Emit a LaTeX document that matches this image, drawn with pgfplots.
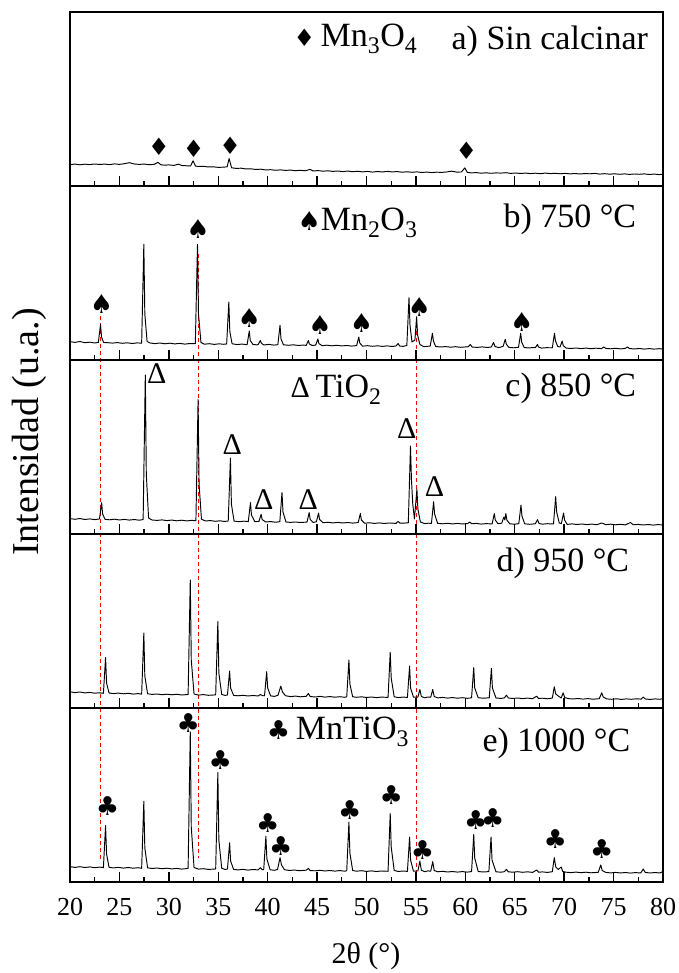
\documentclass[border=0pt]{standalone}
\usepackage{pgfplots}
\pgfplotsset{compat=1.18}
\usepackage{fontspec}
\setmainfont{Liberation Serif}
\newfontfamily\suitfont{DejaVu Sans}

\pgfplotsset{
 panel/.style={
   scale only axis, width=593pt, height=174pt, anchor=south west,
   xmin=20, xmax=80, ymin=0, ymax=174,
   xtick={20,25,...,80}, minor x tick num=1,
   ytick=\empty, xtick pos=left, xtick align=inside,
   major tick length=10pt, minor tick length=5pt,
   axis line style={line width=1.8pt},
   tick style={line width=1.4pt, black},
   clip=false,
 },
 xrd/.style={black, line width=0.95pt, no markers, line join=round},
 symstyle/.style={only marks, mark=text, text mark as node=true,
   text mark style={font=\fontsize{#1}{#1}\selectfont, inner sep=0pt}},
}
\tikzset{lab/.style={font=\fontsize{34}{34}\selectfont, inner sep=0pt}}

\begin{document}
\begin{tikzpicture}
\useasboundingbox (0,0) rectangle (678pt,973pt);

% red dashed guide lines (panels b-e)
\begin{axis}[scale only axis, width=593pt, height=696pt, at={(70pt,91pt)}, anchor=south west,
  xmin=20, xmax=80, ymin=0, ymax=696, hide axis]
\addplot[red, line width=1pt, dash pattern=on 4pt off 3pt] coordinates {(23.09,566) (23.09,22)};
\addplot[red, line width=1pt, dash pattern=on 4pt off 3pt] coordinates {(32.96,628) (32.96,24)};
\addplot[red, line width=1pt, dash pattern=on 4pt off 3pt] coordinates {(55.07,565) (55.07,10)};
\end{axis}

% ---------------- a) Sin calcinar ----------------
\begin{axis}[panel, at={(70pt,787pt)}, xticklabels={}]
\addplot[xrd] coordinates {
(20,21.3)(20.5,21.9)(21,21.2)(21.5,21.8)(22,21.4)(22.5,22.0)(23,21.5)(23.5,21.9)(24,21.4)(24.5,22.1)
(25,21.6)(25.5,22.3)(26,23.3)(26.5,22.0)(27,21.6)(27.5,21.9)(28,21.3)(28.5,21.6)(28.9,23.6)(29.2,21.2)
(29.6,20.8)(30,21.1)(30.5,20.6)(31,21.8)(31.3,20.5)(31.8,20.2)(32.2,20.0)(32.45,25.2)(32.7,19.9)(33,19.5)
(33.5,19.7)(34,19.0)(34.5,19.2)(35,18.6)(35.5,18.8)(35.9,19.2)(36.1,27.5)(36.35,18.2)(36.8,17.6)(37.3,17.8)
(37.8,17.0)(38.3,17.2)(38.8,16.5)(39.3,16.8)(39.8,16.0)(40.3,16.3)(40.8,15.7)(41.3,16.1)(41.8,15.6)(42.3,15.9)
(42.8,15.3)(43.3,15.7)(43.8,15.2)(44.3,16.6)(44.6,15.0)(45.1,15.4)(45.6,14.8)(46.1,15.2)(46.6,14.6)(47.1,15.0)
(47.6,14.4)(48.1,14.9)(48.6,14.3)(49.1,14.7)(49.6,14.1)(50.1,14.6)(50.6,13.9)(51.1,14.5)(51.6,14.0)(52.1,14.6)
(52.6,14.1)(53.1,14.4)(53.6,13.8)(54.1,14.2)(54.6,13.7)(55.1,14.1)(55.6,13.5)(56.1,13.9)(56.6,13.4)(57.1,13.8)
(57.6,13.6)(58.1,14.0)(58.6,14.8)(59.1,13.9)(59.6,14.0)(59.95,18.1)(60.2,13.6)(60.6,13.1)(61.1,13.4)(61.6,12.8)
(62.1,13.2)(62.6,12.7)(63.1,13.1)(63.6,12.9)(64.1,13.3)(64.6,12.6)(65.1,13.0)(65.6,12.5)(66.1,12.9)(66.6,12.4)
(67.1,12.8)(67.6,12.3)(68.1,12.9)(68.6,12.4)(69.1,12.7)(69.6,12.2)(70.1,12.6)(70.6,12.1)(71.1,12.5)(71.6,12.0)
(72.1,12.4)(72.6,12.2)(73.1,12.6)(73.6,11.9)(74.1,12.3)(74.6,11.8)(75.1,12.2)(75.6,11.7)(76.1,12.1)(76.6,11.6)
(77.1,12.0)(77.6,11.7)(78.1,12.1)(78.6,11.5)(79.1,11.9)(79.6,11.4)(80,11.8)
};
\addplot[symstyle=24, text mark={\suitfont ♦}] coordinates {(29.0,38.8) (32.5,37.2) (36.2,40.5) (60.1,34.8)};
\node[lab, anchor=east] at (axis cs:78.5,145) {a) Sin calcinar};
\node[lab, anchor=west] at (axis cs:42.6,147) {{\suitfont\fontsize{24}{24}\selectfont ♦}\,Mn\textsubscript{3}O\textsubscript{4}};
\end{axis}

% ---------------- b) 750 C ----------------
\begin{axis}[panel, at={(70pt,613pt)}, xticklabels={}]
\addplot[xrd] coordinates {
(20,18.4)(20.5,17.6)(21,18.5)(21.5,17.3)(22,17.8)(22.5,17.0)(22.87,17.6)(23.09,35.7)(23.19,23.0)(23.4,17.5)
(23.8,17.3)(24.3,16.9)(24.8,17.4)(25.3,16.7)(25.8,17.2)(26.3,16.5)(26.8,17.1)(27.25,16.8)(27.47,115.7)(27.57,46)
(27.8,18.5)(28.1,17.0)(28.6,16.4)(29.1,17.0)(29.6,16.2)(30.1,16.8)(30.6,16.1)(31.1,16.6)(31.6,15.9)(32.1,16.4)
(32.68,16.3)(32.9,115.7)(33.0,46)(33.25,17.5)(33.6,15.8)(34.1,16.3)(34.6,15.6)(35.1,16.2)(35.5,15.7)(35.85,16.0)
(36.07,58)(36.17,28.5)(36.4,16.2)(36.9,15.4)(37.4,15.9)(37.92,15.3)(38.14,29)(38.24,19.5)(38.5,15.6)(38.9,15.1)
(39.04,15.5)(39.26,19.5)(39.36,16.8)(39.6,15.0)(40.1,15.6)(40.6,14.9)(41.03,15.3)(41.25,34.7)(41.35,21)(41.6,15.2)
(42.1,14.7)(42.6,15.2)(43.1,14.5)(43.6,14.9)(43.9,14.6)(44.12,19.5)(44.22,16)(44.5,14.5)(44.86,14.9)(45.08,21)
(45.18,16.5)(45.5,14.3)(46,14.8)(46.5,14.2)(47,14.7)(47.5,14.1)(48,14.5)(48.5,13.9)(49.0,14.4)(49.22,23)
(49.32,17)(49.6,13.8)(50.1,14.3)(50.6,13.7)(51.1,14.2)(51.6,13.6)(52.1,14.1)(52.6,13.5)(52.98,14)(53.2,16.5)
(53.35,14)(53.7,13.6)(54.08,14.5)(54.3,62.3)(54.4,35)(54.6,18)(54.9,20)(55.07,43.3)(55.17,25)(55.4,15.5)
(55.8,13.3)(56.2,13.7)(56.45,14.0)(56.67,26.7)(56.77,19)(57.0,13.5)(57.5,13.0)(58,13.4)(58.5,12.8)(59,13.3)
(59.5,12.7)(60.28,13.2)(60.5,15.5)(60.7,12.9)(61.2,12.6)(61.7,13.1)(62.2,12.5)(62.63,13)(62.85,17.5)(63.0,13.5)
(63.4,12.4)(63.82,13.6)(64.04,20.7)(64.14,16)(64.4,12.6)(64.9,12.2)(65.38,12.7)(65.6,26.7)(65.7,18)(65.95,12.5)
(66.4,12.0)(66.9,12.5)(67.08,12.3)(67.3,15.5)(67.4,13)(67.7,11.9)(68.2,12.3)(68.8,12.2)(69.02,26.7)(69.12,19)
(69.35,13.5)(69.58,13)(69.8,19)(69.9,14.5)(70.2,11.9)(70.7,11.5)(71.2,12.0)(71.7,11.4)(72.2,11.9)(72.7,11.3)
(73.2,11.8)(73.78,11.4)(74,13)(74.2,11.6)(74.7,11.2)(75.2,11.7)(75.7,11.1)(76.18,11.6)(76.4,13)(76.6,11.5)
(77.1,11.0)(77.6,11.5)(78.1,10.9)(78.6,11.4)(79.1,10.9)(79.6,11.3)(80,11.0)
};
\addplot[symstyle=26, text mark={\suitfont ♠}] coordinates {(23.2,55.7) (32.96,130.7) (38.14,42.3) (45.3,34.7) (49.5,37.3) (55.35,53.3) (65.7,38)};
\node[lab, anchor=east] at (axis cs:77.3,140.7) {b) 750 °C};
\node[lab, anchor=west] at (axis cs:43.0,137.3) {{\suitfont\fontsize{26}{26}\selectfont ♠}Mn\textsubscript{2}O\textsubscript{3}};
\end{axis}

% ---------------- c) 850 C ----------------
\begin{axis}[panel, at={(70pt,439pt)}, xticklabels={}]
\addplot[xrd] coordinates {
(20,15.4)(20.5,14.7)(21,15.5)(21.5,14.5)(22,15.1)(22.5,14.4)(22.98,15.0)(23.2,31.3)(23.3,20)(23.55,14.6)
(24,14.2)(24.5,14.8)(25,14.0)(25.5,14.6)(26,13.9)(26.5,14.5)(27,13.8)(27.4,14.4)(27.62,159)(27.72,60)
(27.95,16)(28.3,14.0)(28.8,13.6)(29.3,14.1)(29.8,13.4)(30.3,13.9)(30.8,13.2)(31.3,13.8)(31.8,13.1)(32.3,13.6)
(32.74,13.3)(32.96,134.4)(33.06,50)(33.3,14.8)(33.7,13.0)(34.2,13.4)(34.7,12.7)(35.2,13.2)(35.6,12.5)(36.01,13.0)
(36.23,75.9)(36.33,30)(36.6,12.9)(37.1,12.3)(37.6,12.8)(38.04,12.4)(38.26,31.3)(38.36,19)(38.7,12.3)(39.12,12.6)
(39.34,19.7)(39.44,14.5)(39.8,12.0)(40.3,12.4)(40.8,11.8)(41.23,12.3)(41.45,41.5)(41.55,22)(41.85,12.0)(42.3,11.6)
(42.8,12.0)(43.3,11.5)(43.98,11.9)(44.2,21.4)(44.3,14.5)(44.6,11.6)(44.93,12.2)(45.15,21)(45.25,14.5)(45.6,11.3)
(46.1,11.7)(46.6,11.1)(47.1,11.6)(47.6,11.0)(48.1,11.5)(48.6,10.9)(49.16,11.4)(49.38,20.4)(49.48,14)(49.8,10.8)
(50.3,11.2)(50.8,10.6)(51.3,11.1)(51.8,10.5)(52.3,11.0)(52.98,10.6)(53.2,12.6)(53.4,10.8)(53.8,10.9)(54.23,11.2)
(54.45,87.8)(54.55,54)(54.68,30)(54.85,15)(55.1,44.9)(55.2,25)(55.45,12)(55.9,10.4)(56.3,10.8)(56.57,10.5)
(56.79,32.3)(56.89,20)(57.2,10.6)(57.7,10.2)(58.2,10.7)(58.7,10.1)(59.2,10.6)(59.7,10.0)(60.23,10.5)(60.45,11.9)
(60.65,10.2)(61.1,10.6)(61.6,9.9)(62.1,10.4)(62.71,10.0)(62.93,20.4)(63.03,14)(63.3,10.3)(63.68,10.8)(63.9,17)
(64.0,14)(64.1,20.5)(64.2,14)(64.5,10.2)(65.0,9.8)(65.41,10.3)(65.63,28.9)(65.73,18)(66.0,10.2)(66.5,9.7)
(67.08,10.2)(67.3,14.3)(67.45,10.5)(67.8,9.8)(68.3,10.3)(68.92,10.0)(69.14,37.4)(69.24,22)(69.5,11)(69.72,10.5)
(69.94,21)(70.04,14)(70.3,9.6)(70.8,10.1)(71.3,9.5)(71.8,10.0)(72.3,9.4)(72.8,9.9)(73.3,9.3)(73.8,11)
(74.2,9.4)(74.7,9.8)(75.2,9.2)(75.7,9.7)(76.2,9.1)(76.7,11.5)(77.0,9.2)(77.5,9.6)(78.0,9.0)(78.5,9.5)
(79,8.9)(79.5,9.4)(80,9.0)
};
\addplot[symstyle=30, text mark={Δ}] coordinates {(28.78,160.5) (36.43,89) (39.6,34) (44.12,34) (54.08,105.4) (56.87,47.6)};
\node[lab, anchor=east] at (axis cs:77.3,146) {c) 850 °C};
\node[lab, anchor=west] at (axis cs:42.3,144.6) {{\fontsize{30}{30}\selectfont Δ}\,TiO\textsubscript{2}};
\end{axis}

% ---------------- d) 950 C ----------------
\begin{axis}[panel, at={(70pt,265pt)}, xticklabels={}]
\addplot[xrd] coordinates {
(20,16.2)(20.5,15.4)(21,16.0)(21.5,15.1)(22,15.6)(22.5,14.8)(23.0,15.2)(23.38,14.7)(23.6,50.5)(23.7,25)
(23.95,15.0)(24.4,14.4)(24.9,14.9)(25.4,14.2)(25.9,14.7)(26.4,13.9)(26.9,14.4)(27.25,13.8)(27.47,75)(27.57,32)
(27.85,14.2)(28.3,13.6)(28.8,14.0)(29.3,13.3)(29.8,13.8)(30.3,13.2)(30.8,13.7)(31.3,13.0)(31.95,13.5)(32.17,128)
(32.27,48)(32.55,14.0)(33.0,12.9)(33.5,13.4)(34.0,12.7)(34.74,13.1)(34.96,86.5)(35.06,35)(35.35,13.5)(35.7,12.6)
(35.93,13.0)(36.15,37)(36.25,20)(36.55,12.6)(37.0,12.2)(37.5,12.7)(38.0,12.0)(38.5,12.5)(39.04,12.0)(39.26,13.5)
(39.45,12.4)(39.68,12.2)(39.9,36.4)(40.0,20)(40.3,12.1)(40.7,11.6)(41.05,12.8)(41.33,21.9)(41.5,16)(41.8,12.3)
(42.3,11.4)(42.8,11.9)(43.3,11.2)(43.9,11.7)(44.12,14.5)(44.3,11.5)(44.8,11.0)(45.3,11.6)(45.8,10.9)(46.3,11.4)
(46.8,10.8)(47.3,11.3)(47.8,10.7)(48.0,11.2)(48.22,48)(48.32,24)(48.6,11.2)(49.0,10.7)(49.5,11.2)(50.0,10.5)
(50.5,11.0)(51.0,10.4)(51.5,10.9)(52.18,10.6)(52.4,55.6)(52.5,30)(52.8,11.2)(53.2,10.4)(53.7,10.9)(54.14,10.6)
(54.36,42)(54.46,20)(54.75,10.8)(55.2,10.9)(55.4,18.5)(55.55,11.5)(55.9,10.2)(56.2,11.0)(56.5,10.8)(56.7,18.5)
(56.85,11.5)(57.2,10.1)(57.7,10.6)(58.2,9.9)(58.7,10.4)(59.2,9.8)(59.7,10.3)(60.2,9.7)(60.63,10.2)(60.85,40.4)
(60.95,20)(61.3,10.3)(61.8,9.8)(62.42,10.2)(62.64,39.7)(62.74,20)(63.1,10.0)(63.6,9.6)(63.95,10.1)(64.16,12.8)
(64.35,10.0)(64.8,9.5)(65.3,10.0)(65.8,9.4)(66.3,9.9)(66.8,9.3)(67.22,11.8)(67.4,9.5)(67.8,9.8)(68.3,9.2)
(68.8,9.9)(69.0,21.2)(69.15,14)(69.4,12)(69.7,10)(69.9,15.2)(70.05,10.5)(70.4,9.4)(70.9,9.0)(71.4,9.5)
(71.9,8.9)(72.4,9.4)(72.9,8.8)(73.55,9.3)(73.8,15.2)(73.95,11)(74.3,9.1)(74.8,8.7)(75.3,9.2)(75.8,8.6)
(76.3,9.1)(76.8,8.7)(77.3,9.2)(77.8,8.9)(78.0,11)(78.2,9.0)(78.7,8.6)(79.2,9.1)(79.7,8.7)(80,9.4)
};
\node[lab, anchor=east] at (axis cs:76.6,144.8) {d) 950 °C};
\end{axis}

% ---------------- e) 1000 C ----------------
\begin{axis}[panel, at={(70pt,91pt)},
   /pgf/number format/assume math mode=true,
   xticklabel style={font=\fontsize{26}{26}\selectfont, inner sep=0pt, anchor=north, yshift=-16pt}]
\addplot[xrd] coordinates {
(20,15.4)(20.5,14.6)(21,15.3)(21.5,14.5)(22,15.1)(22.5,14.3)(23.0,14.9)(23.38,14.4)(23.6,56.5)(23.7,28)
(23.95,14.7)(24.4,14.1)(24.9,14.6)(25.4,13.9)(25.9,14.5)(26.4,13.8)(26.9,14.3)(27.25,13.7)(27.47,80.7)(27.57,34)
(27.85,14.2)(28.3,13.5)(28.8,14.0)(29.3,13.3)(29.8,13.8)(30.3,13.1)(30.8,13.6)(31.3,12.9)(31.95,13.6)(32.17,150)
(32.27,55)(32.55,14.5)(33.0,12.9)(33.5,13.3)(34.0,12.6)(34.74,13.0)(34.96,109.6)(35.06,42)(35.35,13.8)(35.7,12.5)
(35.93,13.0)(36.15,39.2)(36.25,21)(36.55,12.6)(37.0,12.1)(37.5,12.6)(38.0,11.9)(38.5,12.5)(39.04,12.1)(39.26,14.3)
(39.45,12.3)(39.6,12.4)(39.82,45.8)(39.92,23)(40.25,12.2)(40.7,11.7)(41.0,12.6)(41.25,24.3)(41.4,17)(41.7,12.3)
(42.2,11.5)(42.7,12.0)(43.2,11.3)(43.9,11.8)(44.12,13.6)(44.3,11.4)(44.8,11.2)(45.3,11.7)(45.8,11.0)(46.3,11.5)
(46.8,10.9)(47.3,11.4)(47.8,10.8)(48.0,11.3)(48.22,59.8)(48.32,29)(48.6,11.5)(49.0,10.8)(49.5,11.3)(50.0,10.6)
(50.5,11.1)(51.0,10.5)(51.5,11.0)(52.18,10.7)(52.4,68.4)(52.5,35)(52.8,11.6)(53.2,10.5)(53.7,11.0)(54.14,10.6)
(54.36,44.9)(54.46,22)(54.75,10.9)(55.2,11.0)(55.4,20.9)(55.55,11.8)(55.9,10.3)(56.2,11.1)(56.5,10.8)(56.7,20.3)
(56.85,11.5)(57.2,10.2)(57.7,10.7)(58.2,10.0)(58.7,10.5)(59.2,9.9)(59.7,10.4)(60.2,9.9)(60.63,10.4)(60.85,47.5)
(60.95,24)(61.3,10.5)(61.8,10.0)(62.38,10.4)(62.6,44.9)(62.7,22)(63.1,10.2)(63.6,9.8)(63.95,10.3)(64.16,12.6)
(64.35,10.2)(64.8,9.8)(65.3,10.3)(65.8,9.7)(66.3,10.2)(66.8,9.6)(67.22,12)(67.4,9.8)(67.8,10.1)(68.3,9.6)
(68.8,10.3)(69.0,24.3)(69.15,15)(69.4,12.5)(69.7,15)(69.85,10.5)(70.2,9.8)(70.7,9.4)(71.2,9.9)(71.7,9.3)
(72.2,9.8)(72.7,9.2)(73.45,9.7)(73.7,17)(73.85,11.5)(74.2,9.6)(74.7,9.1)(75.2,9.6)(75.7,9.0)(76.2,9.5)
(76.7,8.9)(77.2,9.4)(77.75,9.0)(78.0,13)(78.2,9.6)(78.7,9.0)(79.2,9.5)(79.7,9.0)(80,10.5)
};
\addplot[symstyle=26, text mark={\suitfont ♣}] coordinates {(23.8,76.4) (31.97,158.8) (35.2,121.6) (40.02,59.1) (41.33,35.9) (48.3,72.4) (52.5,87.4) (55.67,31.9) (61.05,61.8) (62.77,63.5) (69.1,43.2) (73.8,32.6)};
\node[lab, anchor=east] at (axis cs:76.7,138.9) {e) 1000 °C};
\node[lab, anchor=west] at (axis cs:39.9,150.5) {{\suitfont\fontsize{26}{26}\selectfont ♣}\,MnTiO\textsubscript{3}};
\end{axis}

\node[font=\fontsize{30}{30}\selectfont] at (366pt,17pt) {2θ (°)};
\node[font=\fontsize{38}{38}\selectfont, rotate=90] at (29pt,541pt) {Intensidad (u.a.)};
\end{tikzpicture}
\end{document}
